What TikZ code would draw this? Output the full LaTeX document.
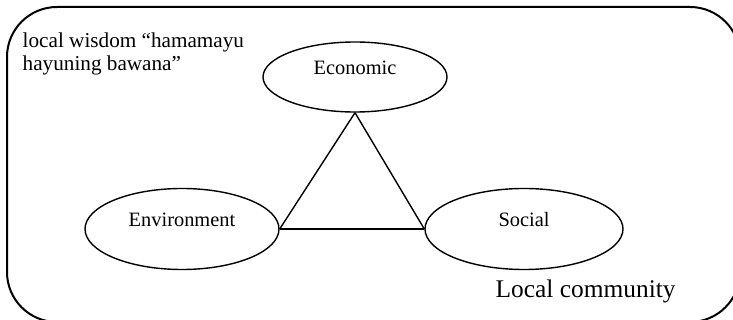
\documentclass[tikz,border=0pt]{standalone}
\usepackage{fontspec}
\setmainfont{Liberation Serif}
\usetikzlibrary{shapes.geometric}
\begin{document}
\begin{tikzpicture}[x=0.5pt, y=-0.5pt, line width=0.7pt,
	aspect/.style={ellipse, draw, inner sep=0pt, text height=7pt, text depth=9.2pt, font=\fontsize{10.2}{12}\selectfont}]
		
		\useasboundingbox (0, 0) rectangle (733, 320);
		\clip (0, 0) rectangle (733, 320);
		
		% community frame
		\draw [line width=1pt, rounded corners=25pt] (7, 7) rectangle (740, 322);
		
		\node (economic) [aspect, minimum width=92pt, minimum height=35pt] at (355, 77) {Economic};
		\node (environment) [aspect, minimum width=97pt, minimum height=40.5pt] at (182, 229) {Environment};
		\node (social) [aspect, minimum width=99pt, minimum height=40.5pt] at (524, 229) {Social};
		
		\draw (economic.south) -- (environment.east);
		\draw (environment.east) -- (social.west);
		\draw (social.west) -- (economic.south);
		
		\node (wisdom) [anchor=north west, inner sep=0pt, align=left, font=\fontsize{10.6}{11.6}\selectfont] at (22, 32) {local wisdom “hamamayu\\hayuning bawana”};
		\node (community) [anchor=base west, inner sep=0pt, font=\fontsize{12.7}{15}\selectfont] at (495, 297) {Local community};
		
\end{tikzpicture}
\end{document}
